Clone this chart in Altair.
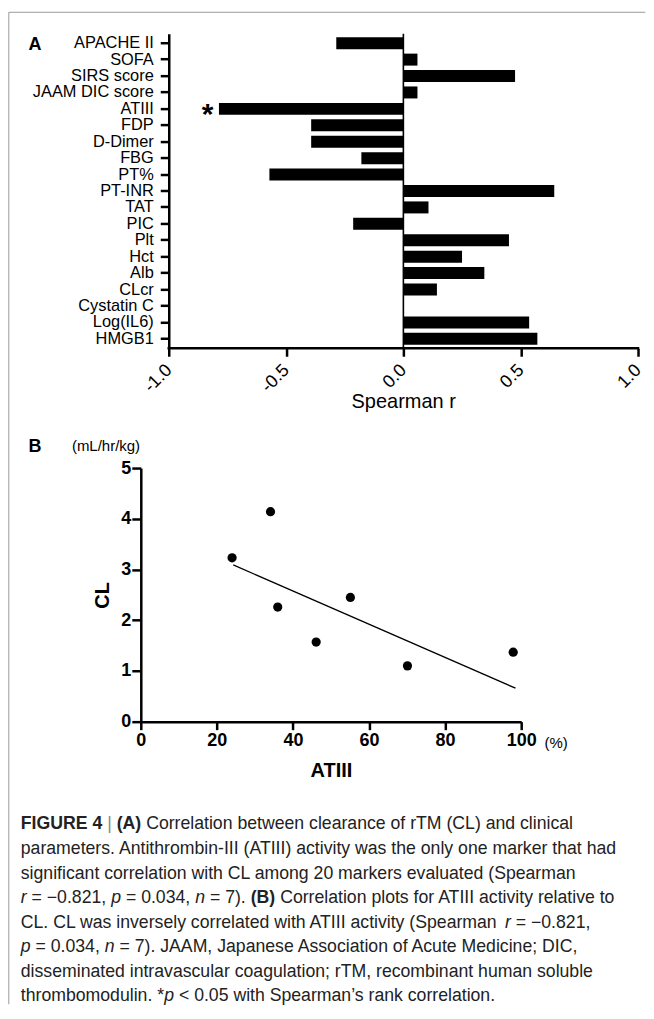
import altair as alt
import pandas as pd

# ---------------- data ----------------
markers = ["APACHE II", "SOFA", "SIRS score", "JAAM DIC score", "ATIII", "FDP",
           "D-Dimer", "FBG", "PT%", "PT-INR", "TAT", "PIC", "Plt", "Hct", "Alb",
           "CLcr", "Cystatin C", "Log(IL6)", "HMGB1"]
spearman_r = [-0.286, 0.06, 0.476, 0.06, -0.786, -0.393, -0.393, -0.179, -0.571,
              0.643, 0.107, -0.214, 0.45, 0.25, 0.345, 0.143, 0.0, 0.536, 0.571]
x_ticks_a = [-1.0, -0.5, 0.0, 0.5, 1.0]

atiii = [24.0, 34.1, 36.0, 46.1, 55.1, 70.1, 97.9]
cl = [3.23, 4.14, 2.26, 1.57, 2.45, 1.10, 1.37]
fit_atiii = [24.3, 98.5]
fit_cl = [3.09, 0.66]
x_ticks_b = [0, 20, 40, 60, 80, 100]
y_ticks_b = [0, 1, 2, 3, 4, 5]

caption_lines = [
    [("FIGURE 4", "b"), (" | ", "g"), ("(A)", "b"),
     (" Correlation between clearance of rTM (CL) and clinical", "r")],
    [("parameters. Antithrombin-III (ATIII) activity was the only one marker that had", "r")],
    [("significant correlation with CL among 20 markers evaluated (Spearman", "r")],
    [("r", "i"), (" = \u22120.821, ", "r"), ("p", "i"), (" = 0.034, ", "r"), ("n", "i"),
     (" = 7). ", "r"), ("(B)", "b"), (" Correlation plots for ATIII activity relative to", "r")],
    [("CL. CL was inversely correlated with ATIII activity (Spearman ", "r"), ("r", "i"),
     (" = \u22120.821,", "r")],
    [("p", "i"), (" = 0.034, ", "r"), ("n", "i"),
     (" = 7). JAAM, Japanese Association of Acute Medicine; DIC,", "r")],
    [("disseminated intravascular coagulation; rTM, recombinant human soluble", "r")],
    [("thrombomodulin. *", "r"), ("p", "i"), (" < 0.05 with Spearman\u2019s rank correlation.", "r")],
]

# ---------------- layout ----------------
FONT = "Liberation Sans"
WA, HA = 498, 315          # panel A plot
PX_PER_UNIT = 235
WB, HB = 381, 254          # panel B plot
GAP = 120
CAP_FS = 17.7
CAP_LINE = 24.6

# text-width helper (Arial/Helvetica advance widths, 1/1000 em)
REG = {' ': 278, '!': 278, '(': 333, ')': 333, '*': 389, ',': 278, '-': 333, '.': 278,
       '/': 278, ':': 278, ';': 278, '<': 584, '=': 584, '>': 584, '|': 260,
       '\u2212': 584, '\u2019': 222, '%': 889}
for ch in "0123456789":
    REG[ch] = 556
REG.update(dict(zip("ABCDEFGHIJKLMNOPQRSTUVWXYZ",
                    [667, 667, 722, 722, 667, 611, 778, 722, 278, 500, 667, 556, 833,
                     722, 778, 667, 778, 722, 667, 611, 722, 667, 944, 667, 667, 611])))
REG.update(dict(zip("abcdefghijklmnopqrstuvwxyz",
                    [556, 556, 500, 556, 556, 278, 556, 556, 222, 222, 500, 222, 833,
                     556, 556, 556, 556, 333, 500, 278, 556, 500, 722, 500, 500, 500])))
BOLD = dict(REG)
BOLD.update({'A': 722, 'B': 722, 'R': 722, 'U': 722, '|': 280})


def tw(s, style):
    table = BOLD if style == "b" else REG
    return sum(table.get(c, 556) for c in s) * CAP_FS / 1000.0


cap_x0 = 20.5 - 140.7
cap_y0 = -12.0
rows = {"r": [], "b": [], "i": [], "g": []}
for li, line in enumerate(caption_lines):
    cur = cap_x0
    for seg, st in line:
        lead = len(seg) - len(seg.lstrip())
        txt = seg.strip()
        if txt:
            rows[st].append({"x": cur + tw(" " * lead, st), "y": cap_y0 + li * CAP_LINE, "t": txt})
        cur += tw(seg, st)

one = pd.DataFrame({"k": [0]})

# ---------------- panel A ----------------
dfA = pd.DataFrame({"marker": markers, "r": spearman_r})
xA = alt.X("r:Q",
           scale=alt.Scale(domain=[1.0 - WA / PX_PER_UNIT, 1.0], nice=False, zero=False),
           axis=alt.Axis(values=x_ticks_a, domain=False, labelAngle=315, labelFlush=False,
                         labelAlign="right", labelBaseline="middle",
                         labelExpr="datum.value < 0 ? '-' + format(-datum.value, '.1f') : format(datum.value, '.1f')",
                         tickSize=8, tickWidth=2.5, labelFontSize=18, labelPadding=11,
                         title="Spearman r", titleFontSize=20, titleFontWeight="normal",
                         titleX=262.8, titleY=59, titleAlign="center",
                         titleBaseline="alphabetic"))
yA = alt.Y("marker:N", sort=markers,
           scale=alt.Scale(paddingInner=0.27, paddingOuter=0.21),
           axis=alt.Axis(title=None, offset=-28, domainWidth=2.5, tickSize=8.5,
                         tickWidth=2.5, labelFontSize=16.4, labelPadding=7))

bars = alt.Chart(dfA).mark_bar(color="black").encode(x=xA, y=yA)
zero_line = alt.Chart(one).mark_rule(color="black", strokeWidth=1.6).encode(
    x=alt.datum(0.0), y=alt.value(0), y2=alt.value(HA))
x_line_a = alt.Chart(one).mark_rule(color="black", strokeWidth=2.5, strokeCap="square").encode(
    x=alt.datum(-1.0), x2=alt.datum(1.0), y=alt.value(HA))
label_a = alt.Chart(one).mark_text(text="A", fontSize=18, fontWeight="bold", align="left",
                                   baseline="alphabetic", color="black").encode(
    x=alt.value(-112.4), y=alt.value(16.3))
star = alt.Chart(one).mark_text(text="*", fontSize=30, fontWeight="bold", align="center",
                                baseline="alphabetic", color="black").encode(
    x=alt.value(66.8), y=alt.value(90))
border_top = alt.Chart(one).mark_rule(color="#9a9a9a", strokeWidth=1).encode(
    x=alt.value(-132.2), x2=alt.value(505.3), y=alt.value(-21.5))
border_left = alt.Chart(one).mark_rule(color="#9a9a9a", strokeWidth=1).encode(
    x=alt.value(-132.2), y=alt.value(-21.5), y2=alt.value(972))

panel_a = alt.layer(bars, zero_line, x_line_a, label_a, star, border_top, border_left).properties(
    width=WA, height=HA)

# ---------------- panel B ----------------
dfB = pd.DataFrame({"atiii": atiii, "cl": cl})
dfFit = pd.DataFrame({"atiii": fit_atiii, "cl": fit_cl})
xB = alt.X("atiii:Q", scale=alt.Scale(domain=[0, 100], nice=False),
           axis=alt.Axis(values=x_ticks_b, title="ATIII", tickSize=8, tickWidth=2.5,
                         domainWidth=2.5, labelFontSize=18, labelFontWeight="bold",
                         labelFlush=False, labelPadding=2, titleFontSize=20,
                         titleFontWeight="bold", titleY=55, titleBaseline="alphabetic"))
yB = alt.Y("cl:Q", scale=alt.Scale(domain=[0, 5], nice=False),
           axis=alt.Axis(values=y_ticks_b, title="CL", tickSize=9, tickWidth=2.5,
                         domainWidth=2.5, labelFontSize=18, labelFontWeight="bold",
                         labelFlush=False, labelPadding=1, titleFontSize=20,
                         titleFontWeight="bold", titleX=-32.5, titleY=HB / 2,
                         titleAngle=270, titleAlign="center", titleBaseline="alphabetic"))
pts = alt.Chart(dfB).mark_circle(size=85, color="black", opacity=1).encode(x=xB, y=yB)
fit = alt.Chart(dfFit).mark_line(color="black", strokeWidth=1.3).encode(x="atiii:Q", y="cl:Q")
label_b = alt.Chart(one).mark_text(text="B", fontSize=18, fontWeight="bold", align="left",
                                   baseline="alphabetic", color="black").encode(
    x=alt.value(-112.4), y=alt.value(-15.7))
unit_y = alt.Chart(one).mark_text(text="(mL/hr/kg)", fontSize=15, align="left",
                                  baseline="alphabetic", color="black").encode(
    x=alt.value(-69), y=alt.value(-17))
unit_x = alt.Chart(one).mark_text(text="(%)", fontSize=15, align="left",
                                  baseline="alphabetic", color="black").encode(
    x=alt.value(404.3), y=alt.value(HB + 26))

panel_b = alt.layer(fit, pts, label_b, unit_y, unit_x).properties(width=WB, height=HB)

# ---------------- caption ----------------
def cap_layer(rows_, weight, style, color):
    return alt.Chart(pd.DataFrame(rows_)).mark_text(
        fontSize=CAP_FS, fontWeight=weight, fontStyle=style, align="left",
        baseline="alphabetic", color=color).encode(
        x=alt.X("x:Q", scale=None), y=alt.Y("y:Q", scale=None), text="t:N")

caption = alt.layer(
    cap_layer(rows["r"], "normal", "normal", "#222222"),
    cap_layer(rows["b"], "bold", "normal", "#222222"),
    cap_layer(rows["i"], "normal", "italic", "#222222"),
    cap_layer(rows["g"], "normal", "normal", "#888888"),
).properties(width=1, height=1)

chart = alt.vconcat(panel_a, panel_b, caption, spacing=GAP, bounds="flush").properties(
    padding={"left": 0, "top": 3, "right": 0, "bottom": 0}
).configure(font=FONT).configure_view(stroke=None).configure_axis(
    grid=False, domainColor="black", tickColor="black", labelColor="black",
    titleColor="black", labelFont=FONT, titleFont=FONT)

chart.save("out.html", embed_options={"renderer": "svg", "actions": False})
